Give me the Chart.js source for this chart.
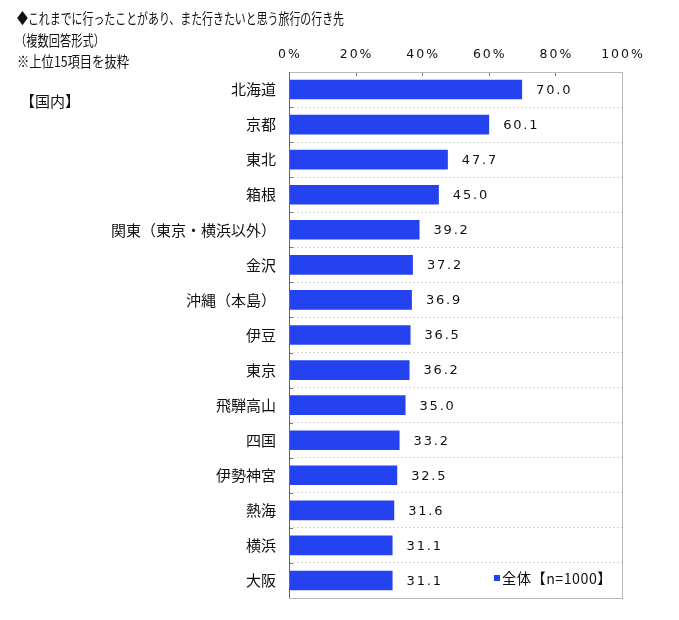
<!DOCTYPE html>
<html lang="ja">
<head>
  <meta charset="UTF-8" />
  <title>旅行の行き先</title>
  <script src="https://cdn.jsdelivr.net/npm/chart.js"></script>
  <style>
    html, body { margin: 0; padding: 0; background: #fff; }
    #wrap { width: 679px; height: 620px; position: relative; }
  </style>
</head>
<body>
  <div id="wrap"><canvas id="chart" width="679" height="620"></canvas></div>

  <script>
    const titleLines = [
      '◆これまでに行ったことがあり、また行きたいと思う旅行の行き先',
      '（複数回答形式）',
      '※上位15項目を抜粋'
    ];
    const sectionLabel = '【国内】';
    const legendLabel = '全体【n=1000】';

    const places = ['北海道', '京都', '東北', '箱根', '関東（東京・横浜以外）', '金沢', '沖縄（本島）',
      '伊豆', '東京', '飛騨高山', '四国', '伊勢神宮', '熱海', '横浜', '大阪'];
    const shares = [70.0, 60.1, 47.7, 45.0, 39.2, 37.2, 36.9, 36.5, 36.2, 35.0, 33.2, 32.5, 31.6, 31.1, 31.1];
    const xTicks = [0, 20, 40, 60, 80, 100];

    const barColor = '#2442ef';
    const jp = '"Noto Sans CJK JP", "Noto Sans", sans-serif';

    // squeeze text horizontally to a given width
    function squeezed(ctx, text, x, y, width) {
      const w = ctx.measureText(text).width;
      ctx.save();
      ctx.translate(x, y);
      ctx.scale(Math.min(1, width / w), 1);
      ctx.fillText(text, 0, 0);
      ctx.restore();
    }

    // titles, value labels, tick labels, frame and legend
    const extras = {
      id: 'extras',
      afterDatasetsDraw(chart) {
        const ctx = chart.ctx;
        const area = chart.chartArea;
        const xs = chart.scales.x;

        ctx.save();
        // tick marks on top edge and left edge
        ctx.strokeStyle = '#777';
        ctx.lineWidth = 1;
        xTicks.forEach(v => {
          const px = Math.round(xs.getPixelForValue(v)) + 0.5;
          ctx.beginPath();
          ctx.moveTo(px, area.top);
          ctx.lineTo(px, area.top + 4);
          ctx.stroke();
        });
        for (let i = 0; i <= places.length; i++) {
          const py = Math.round(area.top + i * (area.bottom - area.top) / places.length) + 0.5;
          ctx.beginPath();
          ctx.moveTo(area.left, py);
          ctx.lineTo(area.left + 4, py);
          ctx.stroke();
        }

        // frame
        ctx.strokeStyle = '#b8b8b8';
        ctx.strokeRect(area.left + 0.5, area.top + 0.5, area.right - area.left, area.bottom - area.top);
        ctx.strokeStyle = '#666';
        ctx.beginPath();
        ctx.moveTo(area.left + 0.5, area.top);
        ctx.lineTo(area.left + 0.5, area.bottom);
        ctx.stroke();

        // x tick labels
        ctx.fillStyle = '#111';
        ctx.font = '12.5px "DejaVu Sans", sans-serif';
        ctx.letterSpacing = '2px';
        ctx.textBaseline = 'middle';
        ctx.textAlign = 'center';
        xTicks.forEach(v => {
          ctx.fillText(v + '%', xs.getPixelForValue(v) + 1, 55);
        });

        // value labels
        const meta = chart.getDatasetMeta(0);
        ctx.font = '13px "DejaVu Sans", sans-serif';
        ctx.letterSpacing = '1.8px';
        ctx.textAlign = 'left';
        meta.data.forEach((bar, i) => {
          ctx.fillText(shares[i].toFixed(1), bar.x + 14, bar.y + 1);
        });
        ctx.letterSpacing = '0px';

        // legend box
        ctx.fillStyle = '#fff';
        ctx.fillRect(486, 567, 130, 22);
        ctx.fillStyle = barColor;
        ctx.fillRect(494, 575, 6, 6);
        ctx.fillStyle = '#111';
        ctx.font = '14.5px ' + jp;
        ctx.letterSpacing = '0.5px';
        squeezed(ctx, legendLabel, 502, 578, 110);
        ctx.letterSpacing = '0px';

        // titles
        ctx.font = '14.5px ' + jp;
        squeezed(ctx, titleLines[0], 17, 18, 327);
        squeezed(ctx, titleLines[1], 15, 40, 90);
        squeezed(ctx, titleLines[2], 17, 61, 112);
        ctx.font = '15px ' + jp;
        ctx.fillText(sectionLabel, 20, 101);
        ctx.restore();
      }
    };

    new Chart(document.getElementById('chart'), {
      type: 'bar',
      data: {
        labels: places,
        datasets: [{
          label: legendLabel,
          data: shares,
          backgroundColor: barColor,
          borderWidth: 0,
          barPercentage: 0.56,
          categoryPercentage: 1
        }]
      },
      options: {
        indexAxis: 'y',
        responsive: false,
        animation: false,
        layout: { padding: { left: 0, right: 57, top: 0, bottom: 12 } },
        plugins: {
          legend: { display: false },
          tooltip: { enabled: false }
        },
        scales: {
          x: {
            position: 'top',
            min: 0,
            max: 100,
            afterBuildTicks: s => { s.ticks = xTicks.map(v => ({ value: v })); },
            afterFit: s => { s.height = 72; },
            border: { display: false },
            grid: { display: false },
            ticks: { display: false }
          },
          y: {
            afterFit: s => { s.width = 289; },
            border: { display: false, dash: [2, 2] },
            grid: {
              offset: true,
              color: '#d4d4d4',
              tickLength: 0,
              drawTicks: false
            },
            ticks: {
              color: '#111',
              padding: 13,
              font: { family: jp, size: 15 }
            }
          }
        }
      },
      plugins: [extras]
    });
  </script>
</body>
</html>
